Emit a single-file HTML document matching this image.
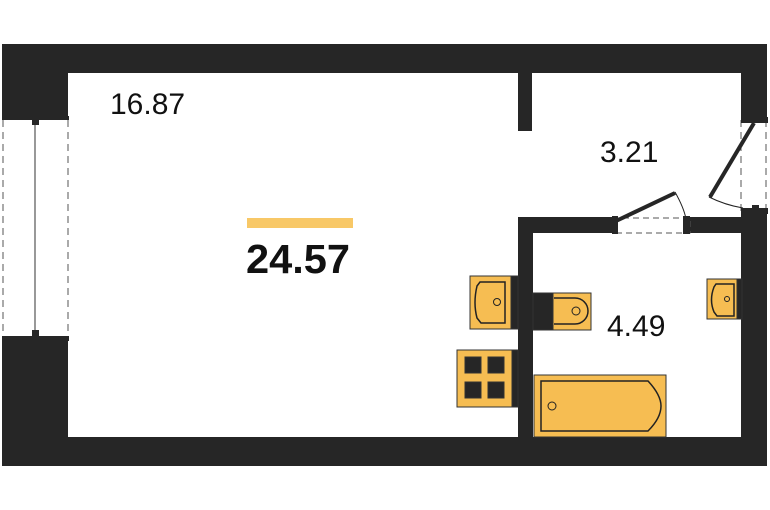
<!DOCTYPE html>
<html><head><meta charset="utf-8"><style>
html,body{margin:0;padding:0;background:#fff;}
svg{display:block}
text{font-family:"Liberation Sans",sans-serif;fill:#111}
</style></head><body>
<svg width="770" height="510" viewBox="0 0 770 510" xmlns="http://www.w3.org/2000/svg">
<g fill="#262626">
<!-- outer walls -->
<rect x="2" y="44" width="765" height="29"/>
<rect x="2" y="44" width="66" height="73"/>
<rect x="2" y="340" width="66" height="126"/>
<rect x="741" y="44" width="26" height="74"/>
<rect x="741" y="213" width="26" height="253"/>
<rect x="2" y="437" width="765" height="29"/>
<!-- partition -->
<rect x="518" y="73" width="14" height="58"/>
<!-- bathroom walls -->
<rect x="518" y="217" width="15" height="225"/>
<rect x="518" y="217" width="95" height="16"/>
<rect x="690" y="217" width="52" height="16"/>
</g>
<!-- left window -->
<g stroke="#555" fill="none">
<line x1="3" y1="120" x2="3" y2="338" stroke-dasharray="7,5"/>
<line x1="68" y1="120" x2="68" y2="338" stroke-dasharray="7,5"/>
<line x1="35" y1="122" x2="35" y2="336" stroke-width="1.2"/>
</g>
<rect x="2" y="116" width="67" height="4" fill="#262626"/>
<rect x="2" y="336" width="67" height="5" fill="#262626"/>
<rect x="32" y="119" width="7" height="6" fill="#262626"/>
<rect x="32" y="330" width="7" height="7" fill="#262626"/>
<!-- right entrance door -->
<g stroke="#555" fill="none">
<line x1="741" y1="120" x2="741" y2="211" stroke-dasharray="7,5"/>
<line x1="766" y1="120" x2="766" y2="211" stroke-dasharray="7,5"/>
<path d="M709 197 Q725 205 743 208" stroke="#222"/>
</g>
<rect x="741" y="117" width="27" height="6" fill="#262626"/>
<rect x="741" y="208" width="27" height="6" fill="#262626"/>
<rect x="752" y="205" width="7" height="4" fill="#262626"/>
<line x1="754" y1="123" x2="710" y2="197" stroke="#262626" stroke-width="4"/>
<!-- bathroom door -->
<g stroke="#555" fill="none">
<rect x="613" y="218" width="77" height="15" stroke-dasharray="6,4"/>
<path d="M675 192 Q684 208 686 219" stroke="#222"/>
</g>
<rect x="612" y="216" width="6" height="18" fill="#262626"/>
<rect x="683" y="216" width="7" height="18" fill="#262626"/>
<line x1="616" y1="221" x2="675" y2="193" stroke="#262626" stroke-width="4"/>
<!-- fixtures -->
<g stroke="#333" stroke-width="1">
<!-- left sink -->
<rect x="470" y="276" width="42" height="53" fill="#f6bd52"/>
<rect x="511" y="276" width="7" height="53" fill="#262626"/>
<path d="M477 318 Q473 303 477 286 L480 282 L505 282 L505 323 L481 323 Z" fill="none" stroke="#222" stroke-width="1.5"/>
<circle cx="497" cy="302" r="3.5" fill="none" stroke="#222"/>
<!-- toilet -->
<rect x="533" y="293" width="20" height="37" fill="#262626"/>
<rect x="553" y="293" width="38" height="37" fill="#f6bd52"/>
<path d="M554 298 L575 298 A13 13 0 0 1 575 324 L554 324" fill="none" stroke="#222" stroke-width="1.5"/>
<circle cx="576" cy="311" r="4" fill="none" stroke="#222"/>
<!-- right sink -->
<rect x="707" y="279" width="31" height="40" fill="#f6bd52"/>
<rect x="737" y="279" width="5" height="40" fill="#262626"/>
<path d="M714 312 Q709 300 714 287 L716 284 L734 284 L734 316 L717 316 Z" fill="none" stroke="#222" stroke-width="1.5"/>
<circle cx="727" cy="299" r="2.5" fill="none" stroke="#222"/>
<!-- stove -->
<rect x="457" y="350" width="55" height="57" fill="#f6bd52"/>
<rect x="512" y="350" width="6" height="57" fill="#262626"/>
<rect x="465" y="357" width="16" height="16" fill="#262626"/>
<rect x="488" y="357" width="16" height="16" fill="#262626"/>
<rect x="465" y="382" width="16" height="16" fill="#262626"/>
<rect x="488" y="382" width="16" height="16" fill="#262626"/>
<!-- bath -->
<rect x="534" y="375" width="132" height="62" fill="#f6bd52"/>
<path d="M541 381 L648 381 Q661 395 661 406 Q661 418 648 431 L541 431 Z" fill="none" stroke="#222" stroke-width="1.5"/>
<circle cx="552" cy="406" r="4" fill="none" stroke="#222"/>
</g>
<!-- labels -->
<rect x="247" y="218" width="106" height="10" fill="#f8c867"/>
<text x="110" y="114" font-size="30">16.87</text>
<text x="246" y="273" font-size="41" font-weight="bold" textLength="104" lengthAdjust="spacingAndGlyphs">24.57</text>
<text x="600" y="162" font-size="30">3.21</text>
<text x="607" y="336" font-size="30">4.49</text>
</svg>
</body></html>
